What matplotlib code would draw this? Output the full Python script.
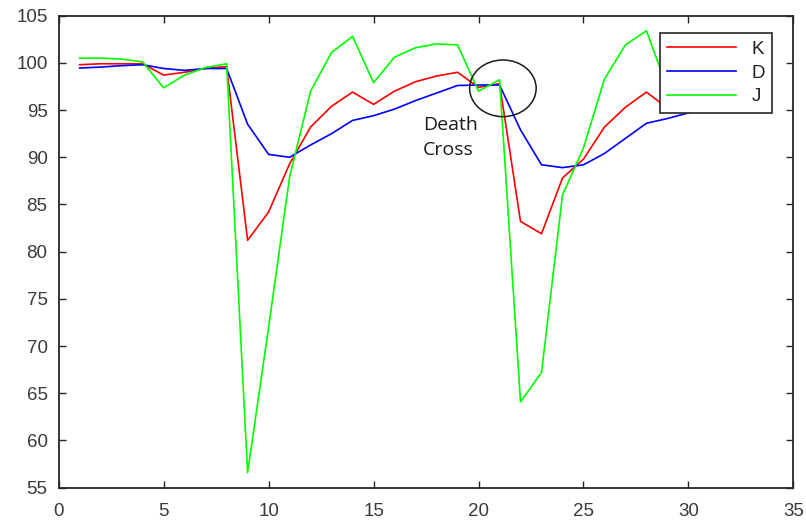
import matplotlib

matplotlib.use("Agg")
import matplotlib.pyplot as plt
from matplotlib.patches import Ellipse

# ── data ──────────────────────────────────────────────────────────────────────
days = list(range(1, 31))
k_vals = [99.8, 99.9, 99.9, 99.9, 98.7, 99.0, 99.4, 99.6, 81.2, 84.2,
          89.3, 93.2, 95.4, 96.9, 95.6, 97.0, 98.0, 98.6, 99.0, 97.4,
          97.8, 83.2, 81.9, 87.8, 89.8, 93.2, 95.3, 96.9, 95.2, 95.8]
d_vals = [99.45, 99.55, 99.7, 99.8, 99.4, 99.2, 99.4, 99.4, 93.5, 90.3,
          90.0, 91.3, 92.5, 93.9, 94.4, 95.1, 96.0, 96.8, 97.6, 97.65,
          97.65, 92.9, 89.2, 88.9, 89.2, 90.4, 92.0, 93.6, 94.1, 94.7]
j_vals = [100.5, 100.5, 100.4, 100.1, 97.35, 98.7, 99.5, 99.9, 56.6, 72.0,
          87.9, 97.0, 101.1, 102.8, 97.9, 100.6, 101.6, 102.0, 101.9, 97.0,
          98.2, 64.1, 67.2, 86.0, 91.0, 98.3, 101.9, 103.4, 97.3, 97.9]
x_ticks = [0, 5, 10, 15, 20, 25, 30, 35]
y_ticks = [55, 60, 65, 70, 75, 80, 85, 90, 95, 100, 105]

_AXIS = "#262626"
_TICK_TXT = "#3a3a3a"

fig = plt.figure(figsize=(8.06, 5.24), dpi=100)
fig.patch.set_facecolor("white")
ax = fig.add_axes([0.0728, 0.0693, 0.9116, 0.9009])

ax.plot(days, k_vals, color="#ff0000", lw=1.2, label="K")
ax.plot(days, d_vals, color="#0000ff", lw=1.2, label="D")
ax.plot(days, j_vals, color="#00ff00", lw=1.2, label="J")

ax.set_xlim(0, 35)
ax.set_ylim(55, 105)
ax.set_xticks(x_ticks)
ax.set_yticks(y_ticks)

# MATLAB-style box: inward ticks on all four sides
ax.tick_params(direction="in", length=5, width=1.0, color=_AXIS,
               top=True, right=True, labelsize=13.5, labelcolor=_TICK_TXT)
ax.tick_params(axis="x", pad=11)
ax.tick_params(axis="y", pad=8)
for lbl in ax.get_xticklabels() + ax.get_yticklabels():
    lbl.set_family("Liberation Sans")
for sp in ax.spines.values():
    sp.set_color(_AXIS)
    sp.set_linewidth(1.3)

# ── "Death Cross" annotation ─────────────────────────────────────────────────
ax.add_patch(Ellipse((21.16, 97.3), 3.17, 6.0, fill=False,
                     edgecolor="#1a1a1a", lw=1.1, zorder=5))
ax.text(17.36, 94.4, "Death\nCross", ha="left", va="top", fontsize=14,
        family="Open Sans", color="#1a1a1a", linespacing=1.55)

leg = ax.legend(loc="upper right", bbox_to_anchor=(0.9714, 0.9625),
                borderaxespad=0, fancybox=False, framealpha=1,
                edgecolor=_AXIS, handlelength=3.7, labelspacing=0.35,
                prop={"family": "Liberation Sans", "size": 13.5})
leg.get_frame().set_linewidth(1.2)
for t in leg.get_texts():
    t.set_color("#222222")

fig.savefig("out.png", dpi=100)
plt.close(fig)
